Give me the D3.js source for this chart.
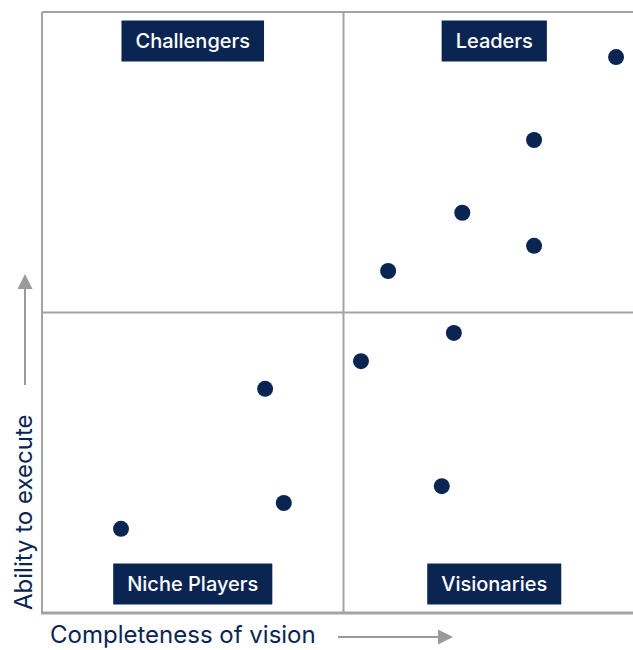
<!DOCTYPE html>
<html>
<head>
<meta charset="utf-8">
<script src="https://cdn.jsdelivr.net/npm/d3@7"></script>
<style>
  body { margin: 0; background: #fff; }
  svg { display: block; font-family: Inter, "Noto Sans", sans-serif; }
</style>
</head>
<body>
<div class="canva"></div>
<script>
// vendor positions (vision, execute) on a 0-10 scale
const vision  = [9.52, 8.16, 6.97, 8.16, 5.74, 6.83, 5.29, 3.70, 6.63, 4.01, 1.31];
const execute = [9.25, 7.87, 6.66, 6.11, 5.69, 4.66, 4.19, 3.73, 2.11, 1.83, 1.40];
const quadrantNames = ["Challengers", "Leaders", "Niche Players", "Visionaries"];
const quadrantCol = [0, 1, 0, 1];
const quadrantRow = [1, 1, 0, 0];
const axisTitles = ["Completeness of vision", "Ability to execute"];

const navy = "#0b2553";
const grey = "#a3a3a3";

const svg = d3.select(".canva").append("svg")
  .attr("width", 633)
  .attr("height", 650);

const margin = {top: 12, left: 42};
const plotW = 603, plotH = 601;

const x = d3.scaleLinear().domain([0, 10]).range([margin.left, margin.left + plotW]);
const y = d3.scaleLinear().domain([0, 10]).range([margin.top + plotH, margin.top]);

// frame + dividers
svg.append("line").attr("x1", x(0)).attr("x2", x(10)).attr("y1", y(10)).attr("y2", y(10))
  .attr("stroke", grey).attr("stroke-width", 2);
svg.append("line").attr("x1", x(0)).attr("x2", x(0)).attr("y1", y(10)).attr("y2", y(0))
  .attr("stroke", grey).attr("stroke-width", 2);
svg.append("line").attr("x1", x(0) - 1).attr("x2", x(10)).attr("y1", y(0)).attr("y2", y(0))
  .attr("stroke", grey).attr("stroke-width", 3);
svg.append("line").attr("x1", x(5)).attr("x2", x(5)).attr("y1", y(10)).attr("y2", y(0))
  .attr("stroke", grey).attr("stroke-width", 2);
svg.append("line").attr("x1", x(0)).attr("x2", x(10)).attr("y1", y(5)).attr("y2", y(5))
  .attr("stroke", grey).attr("stroke-width", 2);

// quadrant labels
quadrantNames.forEach((name, i) => {
  const cx = (x(quadrantCol[i] * 5) + x(quadrantCol[i] * 5 + 5)) / 2;
  const cy = quadrantRow[i] === 1 ? y(10) + 29 : y(0) - 29;
  const g = svg.append("g");
  const t = g.append("text")
    .attr("x", cx).attr("y", cy)
    .attr("text-anchor", "middle")
    .attr("dominant-baseline", "central")
    .attr("fill", "#fff")
    .style("font-size", "20px")
    .style("font-weight", 500)
    .text(name);
  const w = t.node().getComputedTextLength() + 28;
  g.insert("rect", "text")
    .attr("x", cx - w / 2).attr("y", cy - 20.5)
    .attr("width", w).attr("height", 41)
    .attr("fill", navy);
});

// points
svg.selectAll("circle.vendor")
  .data(vision.map((v, i) => ({v: v, e: execute[i]})))
  .enter().append("circle")
  .attr("class", "vendor")
  .attr("cx", d => x(d.v))
  .attr("cy", d => y(d.e))
  .attr("r", 8)
  .attr("fill", navy);

// arrowhead
svg.append("defs").append("marker")
  .attr("id", "arrow")
  .attr("viewBox", "0 0 10 10")
  .attr("refX", 0).attr("refY", 5)
  .attr("markerWidth", 16).attr("markerHeight", 15)
  .attr("markerUnits", "userSpaceOnUse")
  .attr("orient", "auto")
  .append("path").attr("d", "M0,0L10,5L0,10Z")
  .attr("fill", "#9a9a9a");

// x title + arrow
svg.append("text")
  .attr("x", 50).attr("y", 643)
  .attr("fill", navy)
  .style("font-size", "24px")
  .text(axisTitles[0]);
svg.append("line")
  .attr("x1", 338).attr("x2", 438).attr("y1", 637).attr("y2", 637)
  .attr("stroke", "#9a9a9a").attr("stroke-width", 2)
  .attr("marker-end", "url(#arrow)");

// y title + arrow
svg.append("text")
  .attr("transform", "translate(32,610) rotate(-90)")
  .attr("fill", navy)
  .style("font-size", "24px")
  .text(axisTitles[1]);
svg.append("line")
  .attr("x1", 25).attr("x2", 25).attr("y1", 385).attr("y2", 289)
  .attr("stroke", "#9a9a9a").attr("stroke-width", 2)
  .attr("marker-end", "url(#arrow)");
</script>
</body>
</html>
